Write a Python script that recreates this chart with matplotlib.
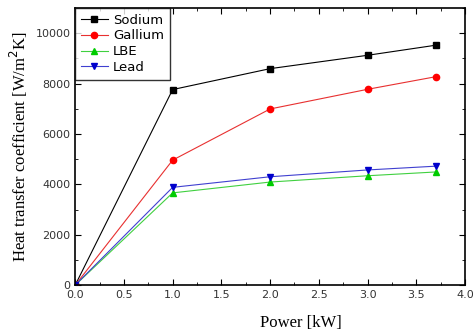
import matplotlib
matplotlib.use("Agg")
import matplotlib.pyplot as plt
from matplotlib.ticker import MultipleLocator

power = [0.0, 1.0, 2.0, 3.0, 3.7]
sodium = [0, 7760, 8590, 9120, 9520]
gallium = [0, 4960, 6990, 7770, 8270]
lbe = [0, 3660, 4090, 4340, 4490]
lead = [0, 3880, 4300, 4570, 4720]

fig = plt.figure(figsize=(4.73, 3.30), dpi=100)
ax = fig.add_axes([0.159, 0.136, 0.824, 0.840])

ax.plot(power, sodium, color="black", marker="s", ms=4.5, lw=0.8, label="Sodium")
ax.plot(power, gallium, color="#e83030", marker="o", mfc="red", mec="red", ms=4.5, lw=0.8, label="Gallium")
ax.plot(power, lbe, color="#40d040", marker="^", mfc="#00cc00", mec="#00cc00", ms=4.5, lw=0.8, label="LBE")
ax.plot(power, lead, color="#4040d0", marker="v", mfc="#0000cc", mec="#0000cc", ms=4.5, lw=0.8, label="Lead")

ax.set_xlim(0, 4.0)
ax.set_ylim(0, 11000)
ax.xaxis.set_major_locator(MultipleLocator(0.5))
ax.xaxis.set_minor_locator(MultipleLocator(0.25))
ax.yaxis.set_major_locator(MultipleLocator(2000))
ax.yaxis.set_minor_locator(MultipleLocator(1000))
ax.tick_params(which="both", direction="in", top=True, right=True, labelsize=8, labelcolor="#333333")
ax.tick_params(which="major", length=4)
ax.tick_params(which="minor", length=2)
for s in ax.spines.values():
    s.set_linewidth(1.2)

ax.set_xlabel("Power [kW]", family="Liberation Serif", fontsize=12)
ax.xaxis.set_label_coords(0.58, -0.135)
ax.xaxis.label.set_va("center")
ax.set_ylabel("Heat transfer coefficient [W/m$^2$K]", family="Liberation Serif", fontsize=12)

leg = ax.legend(loc="upper left", fontsize=9.5, frameon=True, fancybox=False,
                edgecolor="black", borderaxespad=0.0, handlelength=2.0,
                handletextpad=0.4, labelspacing=0.2, borderpad=0.45)
leg.get_frame().set_linewidth(1.0)

fig.savefig("out.png", dpi=100)
